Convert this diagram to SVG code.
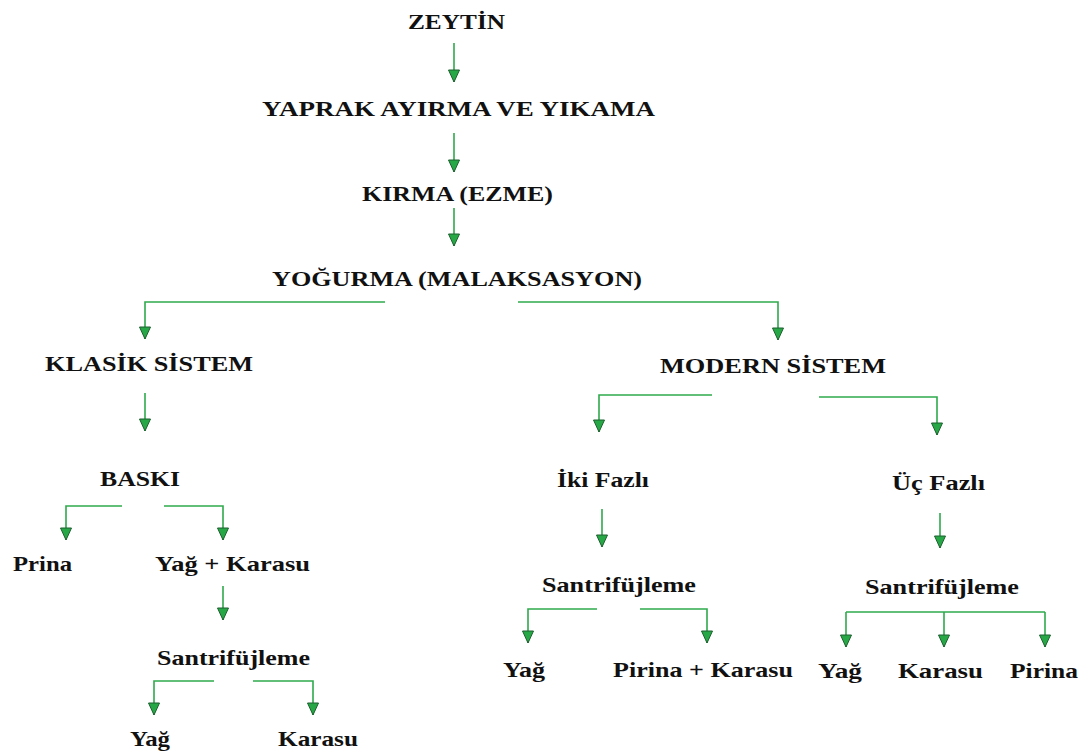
<svg xmlns="http://www.w3.org/2000/svg" width="1086" height="754" viewBox="0 0 1086 754">
<style>
text{font-family:"Liberation Serif","Times New Roman",serif;font-weight:bold;font-size:21px;fill:#111}
.c{fill:none;stroke:#2eaa4c;stroke-width:1.6}
</style>
<defs>
<marker id="ah" markerUnits="userSpaceOnUse" markerWidth="14" markerHeight="14" viewBox="0 0 14 14" refX="13" refY="7" orient="auto">
<path d="M1,1.5 L13,7 L1,12.5 z" fill="#27a847" stroke="#1d5f2e" stroke-width="1"/>
</marker>
</defs>
<rect width="1086" height="754" fill="#fff"/>
<g id="connectors">
<path class="c" marker-end="url(#ah)" d="M454,43 V82"/>
<path class="c" marker-end="url(#ah)" d="M454,133 V172"/>
<path class="c" marker-end="url(#ah)" d="M454,208 V246"/>
<path class="c" marker-end="url(#ah)" d="M385,302 H145 V339"/>
<path class="c" marker-end="url(#ah)" d="M518,302 H778 V340"/>
<path class="c" marker-end="url(#ah)" d="M145,393 V431"/>
<path class="c" marker-end="url(#ah)" d="M712,395 H599 V432"/>
<path class="c" marker-end="url(#ah)" d="M819,397 H937 V435"/>
<path class="c" marker-end="url(#ah)" d="M122,506 H66 V540"/>
<path class="c" marker-end="url(#ah)" d="M164,506 H223 V540"/>
<path class="c" marker-end="url(#ah)" d="M223,586 V620"/>
<path class="c" marker-end="url(#ah)" d="M214,681 H154 V715"/>
<path class="c" marker-end="url(#ah)" d="M253,681 H313 V715"/>
<path class="c" marker-end="url(#ah)" d="M602,509 V547"/>
<path class="c" marker-end="url(#ah)" d="M597,609 H528 V643"/>
<path class="c" marker-end="url(#ah)" d="M640,609 H707 V643"/>
<path class="c" marker-end="url(#ah)" d="M940,513 V548"/>
<path class="c" d="M846,612 H1045"/>
<path class="c" marker-end="url(#ah)" d="M846,612 V647"/>
<path class="c" marker-end="url(#ah)" d="M944,612 V647"/>
<path class="c" marker-end="url(#ah)" d="M1045,612 V647"/>
</g>
<g id="zeytin"><text x="408" y="29" textLength="97" lengthAdjust="spacingAndGlyphs">ZEYTİN</text></g>
<g id="yaprak"><text x="262" y="116" textLength="393" lengthAdjust="spacingAndGlyphs">YAPRAK AYIRMA VE YIKAMA</text></g>
<g id="kirma"><text x="362" y="201" textLength="191" lengthAdjust="spacingAndGlyphs">KIRMA (EZME)</text></g>
<g id="yogurma"><text x="272" y="286" textLength="370" lengthAdjust="spacingAndGlyphs">YOĞURMA (MALAKSASYON)</text></g>
<g id="klasik"><text x="45" y="371" textLength="208" lengthAdjust="spacingAndGlyphs">KLASİK SİSTEM</text></g>
<g id="modern"><text x="660" y="373" textLength="226" lengthAdjust="spacingAndGlyphs">MODERN SİSTEM</text></g>
<g id="baski"><text x="100" y="486" textLength="80" lengthAdjust="spacingAndGlyphs">BASKI</text></g>
<g id="iki-fazli"><text x="557" y="487" textLength="92" lengthAdjust="spacingAndGlyphs">İki Fazlı</text></g>
<g id="uc-fazli"><text x="892" y="490" textLength="93" lengthAdjust="spacingAndGlyphs">Üç Fazlı</text></g>
<g id="prina1"><text x="13" y="571" textLength="59" lengthAdjust="spacingAndGlyphs">Prina</text></g>
<g id="yag-karasu"><text x="155" y="571" textLength="155" lengthAdjust="spacingAndGlyphs">Yağ + Karasu</text></g>
<g id="santr1"><text x="157" y="665" textLength="153" lengthAdjust="spacingAndGlyphs">Santrifüjleme</text></g>
<g id="yag1"><text x="130" y="746" textLength="40" lengthAdjust="spacingAndGlyphs">Yağ</text></g>
<g id="karasu1"><text x="278" y="746" textLength="80" lengthAdjust="spacingAndGlyphs">Karasu</text></g>
<g id="santr2"><text x="542" y="592" textLength="154" lengthAdjust="spacingAndGlyphs">Santrifüjleme</text></g>
<g id="yag2"><text x="503" y="677" textLength="42" lengthAdjust="spacingAndGlyphs">Yağ</text></g>
<g id="pirina-karasu"><text x="613" y="677" textLength="180" lengthAdjust="spacingAndGlyphs">Pirina + Karasu</text></g>
<g id="santr3"><text x="865" y="594" textLength="154" lengthAdjust="spacingAndGlyphs">Santrifüjleme</text></g>
<g id="yag3"><text x="818" y="678" textLength="44" lengthAdjust="spacingAndGlyphs">Yağ</text></g>
<g id="karasu3"><text x="898" y="678" textLength="85" lengthAdjust="spacingAndGlyphs">Karasu</text></g>
<g id="pirina3"><text x="1010" y="678" textLength="68" lengthAdjust="spacingAndGlyphs">Pirina</text></g>
</svg>
